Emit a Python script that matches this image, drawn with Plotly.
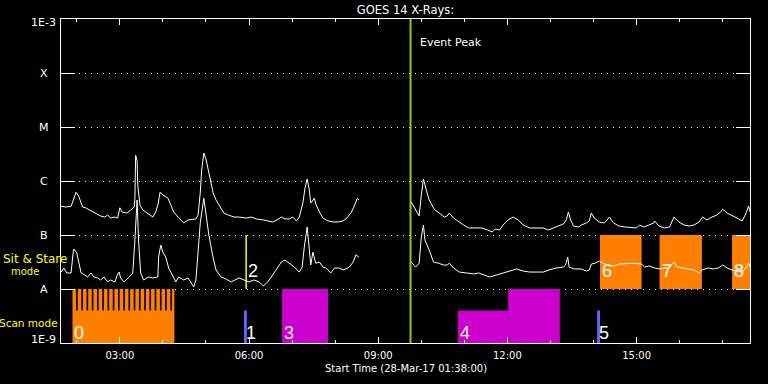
import math
import plotly.graph_objects as go

# ---------------- data ----------------
long_t1 = ["01:38","01:45","01:52","01:55","01:59","02:03","02:08","02:12","02:20","02:25","02:29","02:33","02:39","02:43","02:47","02:53","02:57","03:00","03:03","03:10","03:15","03:20","03:21","03:22","03:24","03:25","03:28","03:32","03:36","03:40","03:46","03:50","03:53","03:56","04:00","04:04","04:07","04:11","04:15","04:21","04:25","04:29","04:35","04:42","04:46","04:49","04:52","04:54","04:57","05:00","05:04","05:07","05:10","05:14","05:21","05:25","05:31","05:39","05:46","05:56","06:03","06:10","06:20","06:26","06:33","06:39","06:45","06:50","06:56","07:01","07:06","07:10","07:15","07:18","07:21","07:24","07:26","07:31","07:33","07:38","07:43","07:50","07:57","08:04","08:11","08:15","08:22","08:26","08:31","08:33"]
long_f1 = [3.4e-7,3.3e-7,3.4e-7,4.5e-7,6.2e-7,5.1e-7,3.3e-7,3.2e-7,2.8e-7,2.55e-7,2.45e-7,2.25e-7,2.15e-7,2.35e-7,2.06e-7,2.15e-7,2.06e-7,3.2e-7,2.67e-7,2.55e-7,2.9e-7,3.3e-7,4.8e-7,3.0e-6,2.4e-6,8.3e-7,3.6e-7,2.9e-7,2.67e-7,2.45e-7,2.15e-7,2.67e-7,3.6e-7,6.2e-7,5.5e-7,5.1e-7,4.8e-7,3.6e-7,2.67e-7,2.15e-7,1.9e-7,1.67e-7,1.9e-7,1.98e-7,1.98e-7,2.35e-7,6.0e-7,1.6e-6,3.3e-6,2.55e-6,1.4e-6,1.04e-6,6.0e-7,4.45e-7,3.16e-7,2.55e-7,2.35e-7,2.15e-7,2.15e-7,2.06e-7,2.15e-7,1.98e-7,1.9e-7,1.82e-7,1.74e-7,1.9e-7,2.15e-7,1.98e-7,1.98e-7,2.15e-7,1.82e-7,2.15e-7,3.9e-7,7.4e-7,1.09e-6,6.8e-7,3.9e-7,4.8e-7,3.75e-7,2.67e-7,2.06e-7,1.82e-7,1.74e-7,1.74e-7,1.82e-7,1.98e-7,2.55e-7,3.3e-7,4.8e-7,4.45e-7]
long_t2 = ["09:46","09:50","09:54","09:57","10:00","10:03","10:07","10:11","10:18","10:25","10:32","10:36","10:39","10:45","10:52","10:59","11:06","11:17","11:24","11:32","11:39","11:43","11:49","11:54","12:01","12:08","12:15","12:22","12:31","12:40","12:50","12:57","13:04","13:11","13:18","13:22","13:25","13:28","13:32","13:39","13:43","13:50","13:54","13:57","14:01","14:08","14:15","14:19","14:22","14:28","14:35","14:43","14:53","15:00","15:04","15:10","15:17","15:24","15:25","15:31","15:39","15:46","15:52","15:59","16:06","16:14","16:20","16:27","16:32","16:38","16:45","16:52","16:57","17:00","17:06","17:13","17:20","17:27","17:32","17:36","17:38"]
long_f2 = [4.1e-7,3.3e-7,2.55e-7,2.25e-7,5.5e-7,1.09e-6,6.8e-7,4.45e-7,3.0e-7,2.55e-7,2.15e-7,2.25e-7,2.55e-7,2.06e-7,1.74e-7,1.53e-7,1.35e-7,1.35e-7,1.35e-7,1.24e-7,1.14e-7,1.29e-7,1.24e-7,1.53e-7,1.9e-7,2.15e-7,1.9e-7,1.53e-7,1.35e-7,1.35e-7,1.35e-7,1.24e-7,1.35e-7,1.47e-7,1.6e-7,1.9e-7,2.67e-7,1.9e-7,1.47e-7,1.41e-7,1.53e-7,1.67e-7,1.82e-7,2.55e-7,2.06e-7,1.74e-7,1.67e-7,1.9e-7,2.15e-7,1.67e-7,1.47e-7,1.41e-7,1.35e-7,1.35e-7,1.53e-7,1.41e-7,1.53e-7,1.67e-7,1.82e-7,1.47e-7,1.35e-7,1.41e-7,2.15e-7,1.74e-7,1.53e-7,1.47e-7,1.53e-7,1.74e-7,2.15e-7,1.9e-7,2.15e-7,2.35e-7,2.67e-7,3.0e-7,2.55e-7,2.25e-7,2.06e-7,1.82e-7,2.45e-7,3.44e-7,2.67e-7]

short_t1 = ["01:38","01:42","01:46","01:52","01:55","01:56","02:00","02:03","02:06","02:11","02:15","02:20","02:24","02:29","02:33","02:38","02:43","02:47","02:53","02:57","02:59","03:01","03:06","03:13","03:18","03:21","03:24","03:26","03:29","03:33","03:40","03:46","03:53","03:54","03:57","04:00","04:04","04:08","04:14","04:18","04:22","04:29","04:35","04:39","04:43","04:46","04:49","04:52","04:57","05:00","05:04","05:10","05:14","05:21","05:28","05:35","05:40","05:46","05:53","06:00","06:07","06:14","06:20","06:26","06:33","06:40","06:45","06:50","06:56","07:03","07:10","07:14","07:17","07:21","07:24","07:26","07:29","07:33","07:38","07:43","07:47","07:54","07:59","08:05","08:12","08:20","08:25","08:29","08:33"]
short_f1 = [2.06e-8,2.45e-8,1.98e-8,1.98e-8,4.8e-8,5.5e-8,4.65e-8,3.0e-8,1.98e-8,1.82e-8,1.67e-8,1.98e-8,1.67e-8,1.6e-8,1.47e-8,1.67e-8,1.35e-8,1.47e-8,1.35e-8,1.9e-8,2.06e-8,1.6e-8,1.35e-8,1.67e-8,1.98e-8,8.1e-8,4.45e-7,8.1e-8,1.98e-8,1.47e-8,1.67e-8,1.6e-8,1.67e-8,3.9e-8,6.5e-8,4.8e-8,3.9e-8,2.45e-8,1.67e-8,1.35e-8,1.67e-8,1.47e-8,1.6e-8,1.29e-8,1.09e-8,1.47e-8,5.3e-8,1.67e-7,4.8e-7,2.55e-7,1.0e-7,3.75e-8,2.25e-8,1.67e-8,1.53e-8,1.35e-8,1.47e-8,1.6e-8,1.47e-8,1.35e-8,1.47e-8,1.35e-8,1.14e-8,1.35e-8,1.82e-8,2.45e-8,3.16e-8,3.44e-8,3.0e-8,2.55e-8,2.06e-8,2.55e-8,6.0e-8,1.41e-7,5.3e-8,2.78e-8,4.8e-8,3.0e-8,3.16e-8,2.55e-8,2.45e-8,1.98e-8,2.45e-8,2.45e-8,2.25e-8,2.55e-8,3.16e-8,4.3e-8,3.9e-8]
short_t2 = ["09:46","09:52","09:57","10:00","10:03","10:05","10:11","10:17","10:24","10:31","10:36","10:39","10:45","10:53","11:03","11:13","11:20","11:27","11:35","11:45","11:54","12:02","12:13","12:22","12:31","12:40","12:50","12:58","13:08","13:18","13:21","13:24","13:26","13:33","13:43","13:50","13:54","13:57","14:02","14:08","14:15","14:22","14:29","14:36","14:46","14:55","15:07","15:11","15:18","15:25","15:32","15:38","15:45","15:49","15:52","15:56","16:03","16:10","16:20","16:27","16:31","16:40","16:47","16:54","17:00","17:06","17:13","17:20","17:27","17:32","17:36","17:38"]
short_f2 = [3.16e-8,2.55e-8,3.0e-8,9.2e-8,1.53e-7,8.1e-8,5.3e-8,3.16e-8,3.0e-8,2.78e-8,2.78e-8,3.0e-8,2.45e-8,2.06e-8,1.98e-8,1.9e-8,1.98e-8,1.82e-8,1.67e-8,1.82e-8,1.98e-8,2.15e-8,2.35e-8,2.15e-8,2.06e-8,2.06e-8,2.06e-8,2.25e-8,2.45e-8,2.55e-8,2.78e-8,3.9e-8,2.55e-8,2.35e-8,2.35e-8,2.15e-8,2.25e-8,2.9e-8,3.0e-8,3.3e-8,2.9e-8,2.78e-8,2.67e-8,2.9e-8,3.0e-8,3.0e-8,2.9e-8,2.55e-8,2.67e-8,2.45e-8,2.35e-8,2.45e-8,2.45e-8,2.78e-8,3.16e-8,2.55e-8,2.45e-8,2.35e-8,2.25e-8,1.98e-8,2.25e-8,2.45e-8,2.35e-8,2.45e-8,2.78e-8,2.45e-8,2.25e-8,2.15e-8,2.06e-8,2.45e-8,3.0e-8,2.55e-8]

# observation blocks
scan_ids    = ["0", "1", "3", "4", "4", "5"]
scan_starts = ["01:54", "05:53", "06:46", "10:51", "12:01", "14:05"]
scan_ends   = ["04:16", "05:57", "07:50", "12:01", "13:13", "14:09"]
scan_tops   = [1e-8, 4e-9, 1e-8, 4e-9, 1e-8, 4e-9]
scan0_base_top = 4e-9
scan0_rasters = 20
scan0_cadence_min = 7.3
scan0_gap_min = 2.3

ss_ids    = ["2", "6", "7", "8"]
ss_starts = ["05:56", "14:09", "15:32", "17:13"]
ss_ends   = ["05:56", "15:07", "16:31", "17:38"]
ss_bottom, ss_top = 1e-8, 1e-7

event_peak = "09:45"
x_start, x_end = "01:38", "17:38"
tick_hours = [3, 6, 9, 12, 15]
tick_text = ["03:00", "06:00", "09:00", "12:00", "15:00"]
minor_hours = [2, 4, 5, 7, 8, 10, 11, 13, 14, 16, 17]
level_vals = [1e-9, 1e-8, 1e-7, 1e-6, 1e-5, 1e-4, 1e-3]
level_text = ["1E-9", "A", "B", "C", "M", "X", "1E-3"]

# ---------------- styles ----------------
ORANGE = "#ff8000"
MAGENTA = "#cc00cc"
BLUE = "#6464ff"
YELLOW = "#ffff00"
GREEN = "#99cc00"
id_color = {"0": ORANGE, "1": BLUE, "3": MAGENTA, "4": MAGENTA, "5": BLUE,
            "2": YELLOW, "6": ORANGE, "7": ORANGE, "8": ORANGE}
FONT = "DejaVu Sans"


def hrs(s):
    h, m = s.split(":")
    return int(h) + int(m) / 60.0


def rect(fig, x0, x1, y0, y1, color):
    fig.add_trace(go.Scatter(x=[x0, x1, x1, x0, x0], y=[y0, y0, y1, y1, y0],
                             mode="lines", fill="toself", fillcolor=color,
                             line=dict(width=0, color=color), hoverinfo="skip",
                             showlegend=False))


fig = go.Figure()

# scan mode blocks
for sid, s, e, top in zip(scan_ids, scan_starts, scan_ends, scan_tops):
    x0, x1 = hrs(s), hrs(e)
    c = id_color[sid]
    rect(fig, x0, x1, 1e-9, top, c)
    if sid == "0":
        # black separations between rasters in the upper part
        for i in range(1, scan0_rasters):
            g0 = x0 + (i * scan0_cadence_min - scan0_gap_min) / 60.0
            g1 = x0 + (i * scan0_cadence_min) / 60.0
            if g1 < x1:
                rect(fig, g0, g1, scan0_base_top, top, "#000000")

# sit & stare blocks
for sid, s, e in zip(ss_ids, ss_starts, ss_ends):
    x0, x1 = hrs(s), hrs(e)
    c = id_color[sid]
    if x1 - x0 < 0.02:
        fig.add_trace(go.Scatter(x=[x0, x0], y=[ss_bottom, ss_top], mode="lines",
                                 line=dict(color=c, width=1.5), hoverinfo="skip",
                                 showlegend=False))
    else:
        rect(fig, x0, min(x1, hrs(x_end)), ss_bottom, ss_top, c)

# event peak
fig.add_trace(go.Scatter(x=[hrs(event_peak)] * 2, y=[1e-9, 1e-3], mode="lines",
                         line=dict(color=GREEN, width=2), hoverinfo="skip",
                         showlegend=False))

# GOES curves
for t1, f1, t2, f2 in [(long_t1, long_f1, long_t2, long_f2),
                       (short_t1, short_f1, short_t2, short_f2)]:
    xs = [hrs(t) for t in t1] + [None] + [hrs(t) for t in t2]
    ys = list(f1) + [None] + list(f2)
    fig.add_trace(go.Scatter(x=xs, y=ys, mode="lines",
                             line=dict(color="white", width=1),
                             connectgaps=False, showlegend=False))

ann = []
# block labels
seen = set()
for sid, s in zip(scan_ids, scan_starts):
    if sid in seen:
        continue
    seen.add(sid)
    ann.append(dict(x=hrs(s), y=-8.82, xref="x", yref="y", text=sid,
                    showarrow=False, xanchor="left", yanchor="middle",
                    font=dict(family="Liberation Sans", size=18, color="white")))
for sid, s in zip(ss_ids, ss_starts):
    ann.append(dict(x=hrs(s), y=-7.66, xref="x", yref="y", text=sid,
                    showarrow=False, xanchor="left", yanchor="middle",
                    font=dict(family="Liberation Sans", size=18, color="white")))

# y level labels
for v, t in zip(level_vals, level_text):
    lv = math.log10(v)
    if t.startswith("1E"):
        yy = -3.06 if lv > -4 else -8.93
        ann.append(dict(x=0, y=yy, xref="paper", yref="y", text=t, showarrow=False,
                        xanchor="right", yanchor="middle", xshift=-3,
                        font=dict(family=FONT, size=11, color="white")))
    else:
        ann.append(dict(x=0, y=lv, xref="paper", yref="y", text=t, showarrow=False,
                        xanchor="center", yanchor="middle", xshift=-17,
                        font=dict(family=FONT, size=11, color="white")))

# mode labels
ann.append(dict(x=0, y=-7.44, xref="paper", yref="y", text="Sit & Stare", showarrow=False,
                xanchor="center", yanchor="middle", xshift=-26.5,
                font=dict(family=FONT, size=12, color=YELLOW)))
ann.append(dict(x=0, y=-7.67, xref="paper", yref="y", text="mode", showarrow=False,
                xanchor="center", yanchor="middle", xshift=-36.5,
                font=dict(family=FONT, size=10, color=YELLOW)))
ann.append(dict(x=0, y=-8.63, xref="paper", yref="y", text="Scan mode", showarrow=False,
                xanchor="center", yanchor="middle", xshift=-32.5,
                font=dict(family=FONT, size=10.5, color=YELLOW)))

# event peak text
ann.append(dict(x=hrs(event_peak), y=-3.44, xref="x", yref="y", text="Event Peak",
                showarrow=False, xanchor="left", yanchor="middle", xshift=7,
                font=dict(family=FONT, size=11, color="white")))

# x axis title
ann.append(dict(x=0.5, y=0, xref="paper", yref="paper",
                text="Start Time (28-Mar-17 01:38:00)", showarrow=False,
                xanchor="center", yanchor="middle", yshift=-25,
                font=dict(family=FONT, size=10, color="white")))

fig.update_layout(
    width=768, height=384,
    margin=dict(l=61, r=18, t=19, b=41),
    paper_bgcolor="black", plot_bgcolor="black",
    font=dict(family=FONT, color="white", size=10),
    title=dict(text="GOES 14 X-Rays:", x=0.5, xref="paper", xanchor="center",
               y=1 - 9.5 / 384, yref="container", yanchor="middle",
               font=dict(family=FONT, size=11.5, color="white")),
    annotations=ann,
    showlegend=False,
)
fig.update_xaxes(range=[hrs(x_start), hrs(x_end)], tickvals=tick_hours, ticktext=tick_text,
                 ticks="inside", ticklen=6, tickcolor="white", tickwidth=1,
                 minor=dict(tickvals=minor_hours, ticks="inside", ticklen=3,
                            tickcolor="white", tickwidth=1, showgrid=False),
                 showline=True, linecolor="white", linewidth=1, mirror="ticks",
                 showgrid=False, zeroline=False, ticklabelstandoff=3,
                 tickfont=dict(family=FONT, size=10, color="white"))
fig.update_yaxes(type="log", range=[-9, -3], tickvals=level_vals, showticklabels=False,
                 ticks="inside", ticklen=14, tickcolor="white", tickwidth=1,
                 showline=True, linecolor="white", linewidth=1, mirror="ticks",
                 showgrid=True, gridcolor="white", gridwidth=1, griddash="1px,5px",
                 zeroline=False)

fig.write_html("out.html", config={"displayModeBar": False},
               post_script="document.body.style.margin='0';document.body.style.overflow='hidden';document.body.style.background='black';")
